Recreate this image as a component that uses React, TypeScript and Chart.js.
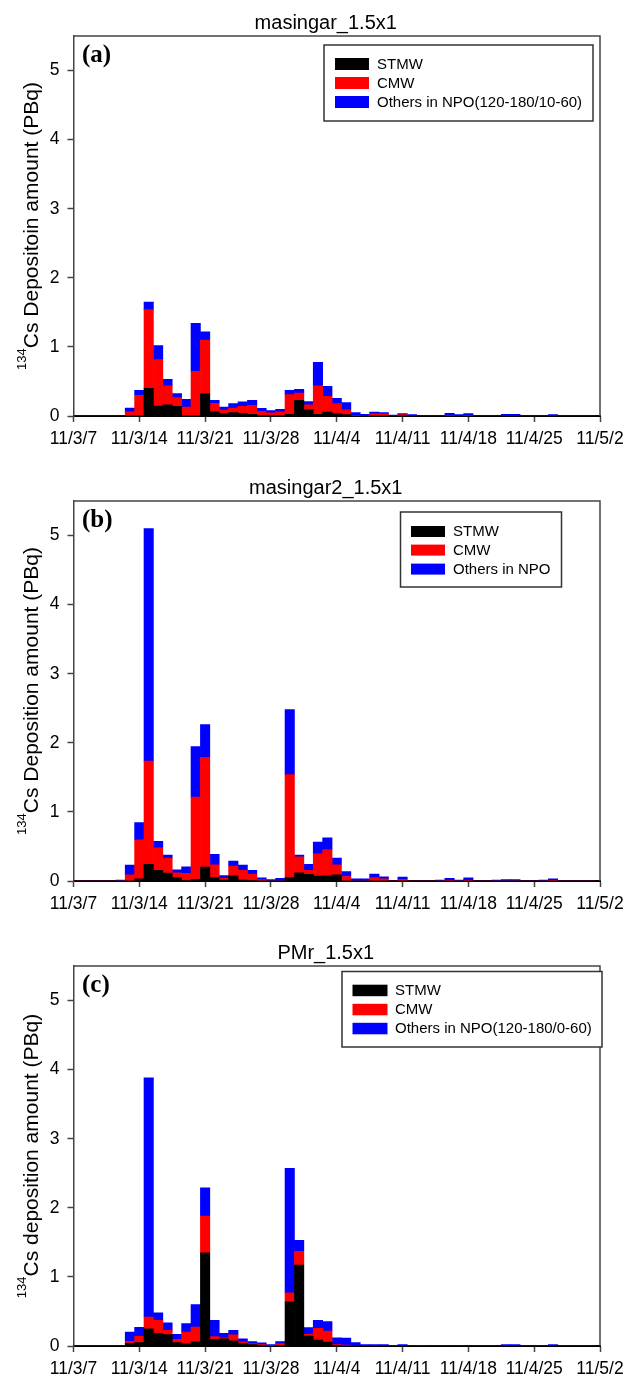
import React, { useEffect, useRef } from 'react';
import { Chart, registerables } from 'chart.js';

Chart.register(...registerables);

const SANS = "'Liberation Sans', Arial, Helvetica, sans-serif";
const SERIF = "'Liberation Serif', 'Times New Roman', serif";

// x tick labels, one per week, starting 2011-03-07
const TICK_LABELS = ['11/3/7', '11/3/14', '11/3/21', '11/3/28', '11/4/4', '11/4/11', '11/4/18', '11/4/25', '11/5/2'];
// day index since 2011-03-07 (56 days)
const DAYS = Array.from({ length: 56 }, (_, i) => i);

const SERIES_NAMES = ['STMW', 'CMW'];
const OTHERS_A = 'Others in NPO(120-180/10-60)';
const OTHERS_B = 'Others in NPO';
const OTHERS_C = 'Others in NPO(120-180/0-60)';

// ---- panel (a) masingar_1.5x1 ----
const STMW_A = [
  0, 0, 0, 0, 0, 0, 0,
  0, 0.40, 0.145, 0.16, 0.14, 0, 0,
  0.32, 0.065, 0.035, 0.05, 0.04, 0.025, 0.01,
  0.005, 0.005, 0.025, 0.225, 0.09, 0.025, 0.055,
  0.035, 0.02, 0, 0, 0, 0, 0,
  0, 0, 0, 0, 0, 0, 0,
  0, 0, 0, 0, 0, 0, 0,
  0, 0, 0, 0, 0, 0, 0,
];
const CMW_A = [
  0, 0, 0, 0, 0, 0, 0.06,
  0.30, 1.14, 0.67, 0.275, 0.125, 0.13, 0.645,
  0.78, 0.12, 0.05, 0.065, 0.10, 0.13, 0.055,
  0.04, 0.055, 0.285, 0.105, 0.07, 0.41, 0.23,
  0.145, 0.07, 0.01, 0, 0.03, 0.03, 0,
  0.02, 0, 0, 0, 0, 0.01, 0,
  0.01, 0, 0, 0, 0, 0, 0,
  0, 0, 0, 0, 0, 0, 0,
];
const OTH_A = [
  0, 0, 0, 0, 0, 0, 0.055,
  0.07, 0.11, 0.205, 0.095, 0.06, 0.11, 0.695,
  0.12, 0.04, 0.045, 0.065, 0.065, 0.07, 0.045,
  0.035, 0.035, 0.06, 0.055, 0.05, 0.34, 0.145,
  0.075, 0.105, 0.04, 0.025, 0.025, 0.02, 0.015,
  0.015, 0.02, 0, 0, 0, 0.03, 0.02,
  0.025, 0, 0, 0, 0.025, 0.025, 0,
  0, 0, 0.02, 0, 0, 0, 0,
];

// ---- panel (b) masingar2_1.5x1 ----
const STMW_B = [
  0, 0, 0, 0, 0, 0, 0,
  0.03, 0.24, 0.155, 0.115, 0.05, 0.01, 0.025,
  0.20, 0.05, 0.015, 0.075, 0.015, 0.01, 0,
  0, 0, 0.05, 0.12, 0.095, 0.07, 0.075,
  0.09, 0, 0, 0, 0, 0, 0,
  0, 0, 0, 0, 0, 0, 0,
  0, 0, 0, 0, 0, 0, 0,
  0, 0, 0, 0, 0, 0, 0,
];
const CMW_B = [
  0, 0, 0, 0, 0, 0, 0.09,
  0.565, 1.495, 0.325, 0.215, 0.07, 0.10, 1.19,
  1.59, 0.185, 0.025, 0.14, 0.14, 0.085, 0.02,
  0, 0, 1.49, 0.23, 0.06, 0.325, 0.38,
  0.145, 0.065, 0, 0, 0.05, 0.03, 0,
  0.025, 0, 0, 0, 0, 0.01, 0,
  0.01, 0, 0, 0, 0, 0, 0,
  0, 0, 0.01, 0, 0, 0, 0,
];
const OTH_B = [
  0, 0, 0, 0, 0, 0.015, 0.14,
  0.25, 3.365, 0.095, 0.045, 0.04, 0.095, 0.73,
  0.475, 0.15, 0.04, 0.075, 0.075, 0.06, 0.025,
  0.02, 0.04, 0.94, 0.025, 0.085, 0.17, 0.17,
  0.095, 0.07, 0.03, 0.03, 0.05, 0.03, 0,
  0.03, 0, 0, 0, 0.015, 0.03, 0.015,
  0.035, 0, 0, 0.015, 0.02, 0.02, 0,
  0, 0.015, 0.02, 0, 0, 0, 0,
];

// ---- panel (c) PMr_1.5x1 ----
const STMW_C = [
  0, 0, 0, 0, 0, 0, 0.04,
  0.05, 0.25, 0.185, 0.165, 0.05, 0.03, 0.065,
  1.35, 0.095, 0.105, 0.075, 0.035, 0.02, 0.01,
  0, 0.005, 0.64, 1.17, 0.145, 0.085, 0.055,
  0.01, 0, 0, 0, 0, 0, 0,
  0, 0, 0, 0, 0, 0, 0,
  0, 0, 0, 0, 0, 0, 0,
  0, 0, 0, 0, 0, 0, 0,
];
const CMW_C = [
  0, 0, 0, 0, 0, 0, 0.025,
  0.09, 0.17, 0.185, 0.06, 0.045, 0.17, 0.21,
  0.53, 0.04, 0.015, 0.085, 0.025, 0.015, 0.01,
  0.005, 0.03, 0.13, 0.20, 0.025, 0.17, 0.16,
  0.01, 0.015, 0, 0, 0, 0, 0,
  0, 0, 0, 0, 0, 0, 0,
  0, 0, 0, 0, 0, 0, 0,
  0, 0, 0, 0, 0, 0, 0,
];
const OTH_C = [
  0, 0, 0, 0, 0, 0, 0.135,
  0.13, 3.46, 0.11, 0.11, 0.075, 0.125, 0.325,
  0.41, 0.235, 0.065, 0.065, 0.045, 0.03, 0.025,
  0.015, 0.03, 1.80, 0.16, 0.095, 0.115, 0.14,
  0.10, 0.10, 0.048, 0.02, 0.02, 0.02, 0.005,
  0.02, 0, 0.01, 0, 0, 0, 0,
  0, 0, 0, 0, 0.02, 0.02, 0,
  0, 0, 0.02, 0, 0, 0, 0,
];

const COLORS = ['#000000', '#ff0000', '#0000ff'];

const PANELS = [
  {
    top: 0,
    title: 'masingar_1.5x1',
    tag: '(a)',
    yTitle: 'Cs Depositoin amount (PBq)',
    names: [...SERIES_NAMES, OTHERS_A],
    series: [STMW_A, CMW_A, OTH_A],
    legend: { x: 324, y: 9, w: 269, h: 76, swX: 335, swW: 34, swH: 12, rows: [22, 41, 60], textX: 377 },
  },
  {
    top: 465,
    title: 'masingar2_1.5x1',
    tag: '(b)',
    yTitle: 'Cs Deposition amount (PBq)',
    names: [...SERIES_NAMES, OTHERS_B],
    series: [STMW_B, CMW_B, OTH_B],
    legend: { x: 400.5, y: 11, w: 161, h: 75, swX: 411, swW: 34, swH: 11, rows: [25, 43.6, 62.6], textX: 453 },
  },
  {
    top: 930,
    title: 'PMr_1.5x1',
    tag: '(c)',
    yTitle: 'Cs deposition amount (PBq)',
    names: [...SERIES_NAMES, OTHERS_C],
    series: [STMW_C, CMW_C, OTH_C],
    legend: { x: 342, y: 5.5, w: 260, h: 75.5, swX: 352.5, swW: 35, swH: 11.5, rows: [18.7, 37.8, 56.8], textX: 395 },
  },
];

const decoPlugin = {
  id: 'deco',
  afterDraw(chart: any, _args: any, opts: any) {
    const ctx = chart.ctx;
    const a = chart.chartArea;
    ctx.save();
    // top & right frame
    ctx.strokeStyle = '#444';
    ctx.lineWidth = 1.5;
    ctx.beginPath();
    ctx.moveTo(a.left, a.top);
    ctx.lineTo(a.right, a.top);
    ctx.lineTo(a.right, a.bottom);
    ctx.stroke();

    // title
    ctx.fillStyle = '#000';
    ctx.font = `20px ${SANS}`;
    ctx.textAlign = 'center';
    ctx.textBaseline = 'middle';
    ctx.fillText(opts.title, (a.left + a.right) / 2 - 11, a.top - 13);

    // panel tag
    ctx.font = `bold 25px ${SERIF}`;
    ctx.textAlign = 'left';
    ctx.textBaseline = 'alphabetic';
    ctx.fillText(opts.tag, a.left + 8.5, a.top + 26);

    // y axis title with superscript
    ctx.save();
    ctx.translate(38, (a.top + a.bottom) / 2);
    ctx.rotate(-Math.PI / 2);
    ctx.font = `13px ${SANS}`;
    const w1 = ctx.measureText('134').width;
    ctx.font = `21px ${SANS}`;
    const w2 = ctx.measureText(opts.yTitle).width;
    const start = -(w1 + w2) / 2;
    ctx.textAlign = 'left';
    ctx.textBaseline = 'alphabetic';
    ctx.font = `13px ${SANS}`;
    ctx.fillText('134', start, -12);
    ctx.font = `21px ${SANS}`;
    ctx.fillText(opts.yTitle, start + w1, 0);
    ctx.restore();

    // legend
    const L = opts.legend;
    ctx.fillStyle = '#fff';
    ctx.fillRect(L.x, a.top + L.y, L.w, L.h);
    ctx.strokeStyle = '#333';
    ctx.lineWidth = 1.5;
    ctx.strokeRect(L.x, a.top + L.y, L.w, L.h);
    ctx.font = `15px ${SANS}`;
    ctx.textBaseline = 'middle';
    ctx.textAlign = 'left';
    opts.names.forEach((n: string, i: number) => {
      const ry = a.top + L.rows[i];
      ctx.fillStyle = COLORS[i];
      ctx.fillRect(L.swX, ry, L.swW, L.swH);
      ctx.fillStyle = '#000';
      ctx.fillText(n, L.textX, ry + L.swH / 2 + 0.5);
    });
    ctx.restore();
  },
};

function Panel({ panel }: { panel: any }) {
  const ref = useRef<HTMLCanvasElement | null>(null);
  useEffect(() => {
    if (!ref.current) return;
    const gridCfg = {
      display: true,
      drawOnChartArea: false,
      drawTicks: true,
      offset: false,
      tickLength: 6,
      tickColor: '#444',
      tickWidth: 1.5,
      color: '#444',
    };
    const chart = new Chart(ref.current, {
      type: 'bar',
      data: {
        datasets: panel.series.map((s: number[], k: number) => ({
          label: panel.names[k],
          data: DAYS.map((d, i) => ({ x: d, y: s[i] })),
          backgroundColor: COLORS[k],
          borderWidth: 0,
          barPercentage: 1,
          categoryPercentage: 1,
        })),
      },
      options: {
        animation: false,
        responsive: false,
        maintainAspectRatio: false,
        devicePixelRatio: 1,
        layout: { padding: { top: 36, right: 23, left: 0, bottom: 0 } },
        plugins: {
          legend: { display: false },
          title: { display: false },
          tooltip: { enabled: false },
          deco: {
            title: panel.title,
            tag: panel.tag,
            yTitle: panel.yTitle,
            names: panel.names,
            legend: panel.legend,
          },
        } as any,
        scales: {
          x: {
            type: 'linear',
            min: 0,
            max: 56,
            stacked: true,
            offset: false,
            z: 1,
            ticks: {
              stepSize: 7,
              autoSkip: false,
              maxRotation: 0,
              minRotation: 0,
              padding: 7,
              color: '#000',
              font: { family: SANS, size: 17.5 },
              callback: (v: any) => TICK_LABELS[Math.round(Number(v) / 7)] ?? '',
            },
            grid: gridCfg,
            border: { display: true, color: '#000', width: 2 },
            afterFit: (s: any) => {
              s.height = 34;
              s.paddingLeft = 0;
              s.paddingRight = 0;
            },
          },
          y: {
            type: 'linear',
            min: 0,
            max: 5.5,
            stacked: true,
            ticks: {
              stepSize: 1,
              includeBounds: false,
              padding: 8,
              color: '#000',
              font: { family: SANS, size: 17.5 },
            },
            grid: gridCfg,
            border: { display: true, color: '#444', width: 1.5 },
            afterFit: (s: any) => {
              s.width = 73.5;
              s.paddingTop = 0;
              s.paddingBottom = 0;
            },
          },
        } as any,
      },
      plugins: [decoPlugin],
    } as any);
    return () => chart.destroy();
  }, [panel]);
  return (
    <canvas
      ref={ref}
      width={623}
      height={450}
      style={{ position: 'absolute', left: 0, top: panel.top, width: 623, height: 450 }}
    />
  );
}

export default function App() {
  return (
    <div
      style={{
        position: 'absolute',
        left: 0,
        top: 0,
        width: 623,
        height: 1381,
        background: '#fff',
        overflow: 'hidden',
      }}
    >
      {PANELS.map((p, i) => (
        <Panel key={i} panel={p} />
      ))}
    </div>
  );
}
